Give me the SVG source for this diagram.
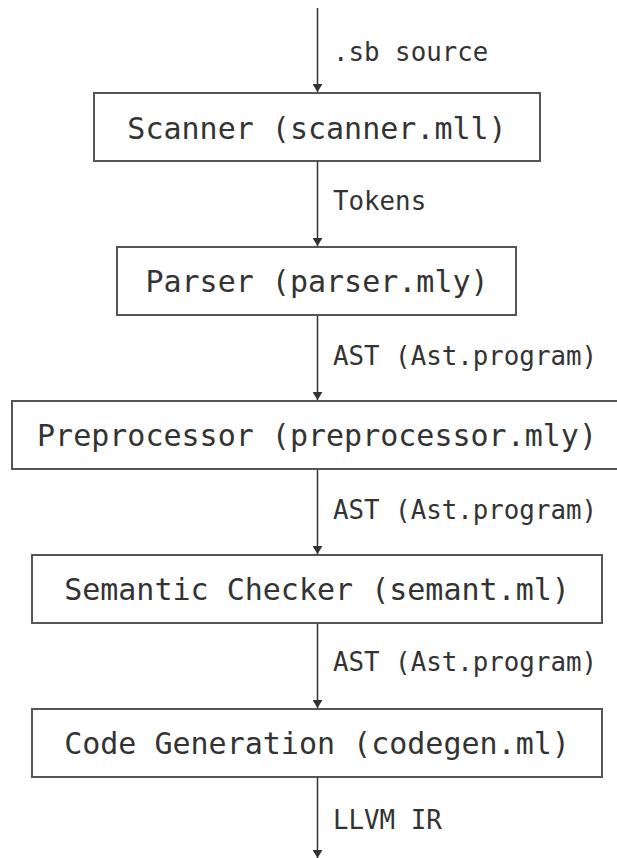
<svg xmlns="http://www.w3.org/2000/svg" width="617" height="858" viewBox="0 0 617 858">
  <style>
    .box { fill: #ffffff; stroke: #555555; stroke-width: 2; }
    .node-label { font-family: "DejaVu Sans Mono", "Liberation Mono", monospace; font-size: 30px; fill: #333333; text-anchor: middle; }
    .edge-label { font-family: "DejaVu Sans Mono", "Liberation Mono", monospace; font-size: 25.8px; fill: #333333; }
    .edge { stroke: #333333; stroke-width: 1.5; fill: none; marker-end: url(#arrow); }
  </style>
  <defs>
    <marker id="arrow" viewBox="0 0 8 10" refX="8" refY="5" markerWidth="8" markerHeight="10" markerUnits="userSpaceOnUse" orient="auto">
      <path d="M0,0 L8,5 L0,10 Z" fill="#333333"/>
    </marker>
  </defs>
  <rect width="617" height="858" fill="#ffffff"/>

  <!-- pipeline connectors -->
  <g id="connectors">
    <line class="edge" x1="317.5" y1="8" x2="317.5" y2="92"/>
    <line class="edge" x1="317.5" y1="161" x2="317.5" y2="246"/>
    <line class="edge" x1="317.5" y1="315" x2="317.5" y2="400"/>
    <line class="edge" x1="317.5" y1="469" x2="317.5" y2="554"/>
    <line class="edge" x1="317.5" y1="623" x2="317.5" y2="708"/>
    <line class="edge" x1="317.5" y1="777" x2="317.5" y2="858"/>
    <text class="edge-label" x="333" y="61">.sb source</text>
    <text class="edge-label" x="333" y="210">Tokens</text>
    <text class="edge-label" x="333" y="365">AST (Ast.program)</text>
    <text class="edge-label" x="333" y="519">AST (Ast.program)</text>
    <text class="edge-label" x="333" y="671">AST (Ast.program)</text>
    <text class="edge-label" x="333" y="829">LLVM IR</text>
  </g>

  <!-- compiler stages -->
  <g id="scanner">
    <rect class="box" x="94" y="93" width="446" height="68"/>
    <text class="node-label" x="317" y="139">Scanner (scanner.mll)</text>
  </g>
  <g id="parser">
    <rect class="box" x="117" y="247" width="399" height="68"/>
    <text class="node-label" x="317" y="292">Parser (parser.mly)</text>
  </g>
  <g id="preprocessor">
    <rect class="box" x="12" y="401" width="610" height="68"/>
    <text class="node-label" x="317" y="446">Preprocessor (preprocessor.mly)</text>
  </g>
  <g id="semant">
    <rect class="box" x="32" y="555" width="570" height="68"/>
    <text class="node-label" x="317" y="600">Semantic Checker (semant.ml)</text>
  </g>
  <g id="codegen">
    <rect class="box" x="32" y="709" width="570" height="68"/>
    <text class="node-label" x="317" y="754">Code Generation (codegen.ml)</text>
  </g>
</svg>
